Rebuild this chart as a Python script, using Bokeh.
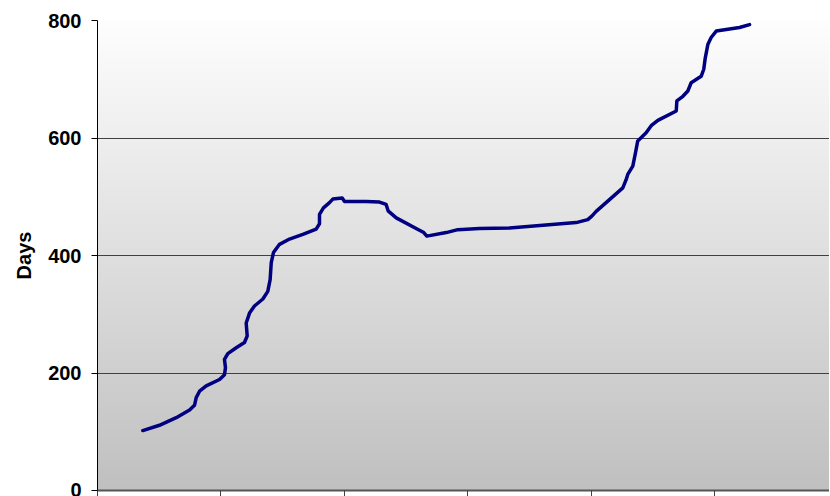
import numpy as np
from bokeh.plotting import figure
from bokeh.models import FixedTicker, Range1d
from bokeh.embed import file_html
from bokeh.resources import INLINE

# x positions in category-tick units, y values in days
x_pos = [0.367, 0.502, 0.638, 0.746, 0.786, 0.800, 0.827, 0.881, 0.989, 1.029,
         1.037, 1.029, 1.056, 1.124, 1.191, 1.213, 1.205, 1.232, 1.272, 1.340,
         1.380, 1.399, 1.408, 1.426, 1.475, 1.556, 1.664, 1.772, 1.799, 1.799,
         1.831, 1.880, 1.907, 1.983, 2.002, 2.177, 2.285, 2.339, 2.355, 2.421,
         2.609, 2.644, 2.669, 2.826, 2.920, 3.096, 3.339, 3.879, 3.973, 4.006,
         4.041, 4.149, 4.257, 4.284, 4.297, 4.338, 4.360, 4.378, 4.446, 4.487,
         4.541, 4.690, 4.695, 4.744, 4.784, 4.811, 4.892, 4.913, 4.925, 4.946,
         4.973, 5.014, 5.203, 5.284]
days = [102, 111, 124, 137, 145, 158, 169, 178, 189, 197,
        209, 223, 233, 243, 252, 263, 285, 302, 314, 326,
        339, 359, 388, 405, 419, 428, 436, 445, 454, 470,
        481, 490, 496, 498, 492, 492, 491, 487, 476, 464,
        443, 439, 433, 439, 444, 446, 447, 456, 461, 467,
        475, 495, 515, 529, 538, 552, 575, 595, 609, 621,
        630, 646, 663, 671, 680, 694, 705, 717, 736, 759,
        771, 782, 788, 793]

y_ticks = [0, 200, 400, 600, 800]
x_ticks = [0, 1, 2, 3, 4, 5, 6]

X_END = 5.932
FONT = "Liberation Sans"

p = figure(frame_width=732, frame_height=470, output_backend="svg",
           toolbar_location=None, x_range=Range1d(0, X_END), y_range=Range1d(0, 800),
           min_border_left=97, min_border_right=0, min_border_top=20, min_border_bottom=0)
p.outline_line_color = None
p.background_fill_color = "white"
p.border_fill_color = "white"

# gradient background (white at top, grey at bottom)
rows = 470
g = np.linspace(192, 254, rows).astype(np.uint32)
img = np.empty((rows, 1), dtype=np.uint32)
view = img.view(dtype=np.uint8).reshape((rows, 1, 4))
view[:, 0, 0] = g
view[:, 0, 1] = g
view[:, 0, 2] = g
view[:, 0, 3] = 255
bg = p.image_rgba(image=[img], x=0, y=0, dw=X_END, dh=800)
bg.level = "image"

p.line(x_pos, days, line_color="#000080", line_width=3.5, line_join="round", line_cap="round")

p.xgrid.visible = False
p.ygrid.ticker = FixedTicker(ticks=y_ticks)
p.ygrid.grid_line_color = "#404040"
p.ygrid.grid_line_width = 1

p.yaxis.ticker = FixedTicker(ticks=y_ticks)
p.yaxis.axis_line_color = "black"
p.yaxis.major_tick_line_color = "black"
p.yaxis.major_tick_out = 6
p.yaxis.major_tick_in = 0
p.yaxis.minor_tick_line_color = None
p.yaxis.major_label_standoff = 10
p.yaxis.major_label_text_font = FONT
p.yaxis.major_label_text_font_style = "bold"
p.yaxis.major_label_text_font_size = "20px"
p.yaxis.major_label_text_color = "black"
p.yaxis.axis_label = "Days"
p.yaxis.axis_label_text_font = FONT
p.yaxis.axis_label_text_font_style = "bold"
p.yaxis.axis_label_text_font_size = "20px"
p.yaxis.axis_label_text_color = "black"
p.yaxis.axis_label_standoff = 10

p.xaxis.ticker = FixedTicker(ticks=x_ticks)
p.xaxis.axis_line_color = "#555555"
p.xaxis.axis_line_width = 2
p.xaxis.major_tick_line_color = "#404040"
p.xaxis.major_tick_out = 6
p.xaxis.major_tick_in = 0
p.xaxis.minor_tick_line_color = None
p.xaxis.major_label_text_font_size = "1px"
p.xaxis.major_label_text_alpha = 0
p.xaxis.major_label_standoff = 0

html = file_html(p, INLINE)
html = html.replace("</head>", "<style>html,body{overflow:hidden;}</style></head>", 1)
open("out.html", "w").write(html)
